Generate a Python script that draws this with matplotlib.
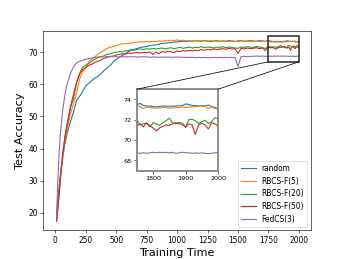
import matplotlib
matplotlib.use('Agg')
import matplotlib.pyplot as plt
from matplotlib.patches import Rectangle, ConnectionPatch
import numpy as np

# training time grid: dense at start, every 25 in the middle, every 10 in the zoomed tail
steps = np.r_[10:101:10, 125:1751:25, 1760:2001:10]

acc_random = [
    19.5, 24.0, 28.0, 31.5, 34.5, 37.2, 39.7, 41.8, 43.5, 45.2,
    48.5, 51.5, 55.0, 56.3, 57.8, 59.5, 60.3, 61.2, 62.0, 62.4,
    63.3, 64.3, 65.2, 65.8, 67.0, 67.8, 68.4, 69.0, 69.6, 70.2,
    70.6, 70.9, 71.2, 71.5, 71.6, 71.8, 72.0, 72.2, 72.3, 72.5,
    72.7, 72.8, 72.9, 73.0, 73.1, 73.2, 73.3, 73.4, 73.3, 73.5,
    73.4, 73.6, 73.5, 73.4, 73.6, 73.5, 73.3, 73.5, 73.6, 73.4,
    73.5, 73.4, 73.6, 73.5, 73.3, 73.5, 73.6, 73.4, 73.5, 73.6,
    73.5, 73.4, 73.6, 73.5, 73.4, 73.5,
    73.6, 73.4, 73.35, 73.35, 73.3, 73.25, 73.3, 73.35, 73.35, 73.33,
    73.33, 73.35, 73.36, 73.4, 73.55, 73.5, 73.4, 73.4, 73.35, 73.4,
    73.35, 73.45, 73.3, 73.2, 73.1,
]

acc_rbcs5 = [
    18.0, 22.0, 26.0, 30.0, 33.5, 37.0, 40.0, 42.5, 44.5, 46.5,
    51.0, 54.0, 57.5, 61.8, 64.0, 65.0, 67.0, 67.9, 68.6, 69.4,
    70.0, 70.6, 71.2, 71.5, 71.8, 72.0, 72.4, 72.6, 72.6, 72.8,
    72.9, 73.0, 73.1, 73.2, 73.2, 73.3, 73.2, 73.4, 73.3, 73.5,
    73.4, 73.6, 73.5, 73.7, 73.6, 73.8, 73.6, 73.7, 73.5, 73.6,
    73.5, 73.6, 73.4, 73.6, 73.5, 73.4, 73.6, 73.5, 73.4, 73.5,
    73.4, 73.5, 73.3, 73.5, 73.4, 73.3, 73.5, 73.4, 73.3, 73.4,
    73.3, 73.4, 73.3, 73.4, 73.3, 73.4,
    73.3, 73.1, 73.25, 73.2, 73.15, 73.15, 73.15, 73.2, 73.2, 73.15,
    73.15, 73.2, 73.2, 73.25, 73.2, 73.25, 73.25, 73.3, 73.3, 73.35,
    73.3, 73.1, 73.25, 73.1, 73.05,
]

acc_rbcs20 = [
    17.5, 21.5, 26.0, 30.5, 34.5, 38.3, 41.3, 44.0, 46.3, 48.3,
    52.8, 55.7, 60.5, 63.5, 65.3, 66.0, 66.5, 67.2, 67.8, 68.3,
    68.6, 68.9, 69.3, 69.5, 69.8, 70.0, 70.2, 70.1, 70.4, 70.5,
    70.8, 70.6, 70.9, 71.0, 70.8, 71.1, 70.9, 71.2, 71.0, 71.1,
    71.3, 71.0, 71.2, 71.4, 71.1, 71.3, 71.5, 71.2, 71.4, 71.6,
    71.3, 71.5, 71.4, 71.7, 71.4, 71.6, 71.5, 71.3, 71.6, 71.5,
    71.7, 71.4, 71.6, 71.5, 71.3, 71.2, 71.6, 71.5, 71.7, 71.6,
    71.4, 71.8, 71.6, 71.5, 70.4, 72.0,
    71.5, 71.6, 71.65, 71.3, 71.7, 71.6, 71.45, 71.7, 71.9, 72.15,
    71.7, 71.6, 71.75, 71.65, 71.3, 72.0, 72.05, 71.9, 71.65, 71.8,
    71.95, 71.65, 71.8, 72.2, 72.1,
]

acc_rbcs50 = [
    17.3, 21.0, 25.5, 30.0, 34.0, 38.0, 41.0, 43.8, 46.0, 48.3,
    53.3, 57.0, 60.8, 63.2, 64.6, 65.3, 65.9, 66.3, 66.8, 67.2,
    67.6, 68.1, 68.4, 68.6, 68.8, 69.1, 69.3, 69.5, 69.4, 69.7,
    69.6, 69.8, 69.9, 69.7, 70.0, 69.8, 70.1, 69.3, 70.0, 69.5,
    70.2, 70.0, 70.3, 70.1, 69.8, 70.4, 70.2, 70.5, 70.3, 70.6,
    70.4, 70.6, 70.5, 70.8, 70.6, 70.9, 70.7, 71.0, 70.8, 71.0,
    71.1, 70.9, 71.2, 71.0, 71.1, 69.6, 71.2, 71.0, 71.3, 71.1,
    71.2, 71.4, 71.1, 71.3, 71.2, 71.4,
    71.6, 71.3, 71.7, 71.4, 71.2, 70.9, 71.2, 71.35, 71.5, 71.45,
    71.6, 71.7, 71.6, 71.55, 71.25, 71.6, 71.5, 70.55, 71.5, 71.65,
    71.5, 71.1, 71.7, 71.6, 71.35,
]

acc_fedcs3 = [
    19.0, 30.0, 38.0, 44.0, 48.0, 52.0, 54.5, 57.0, 59.0, 60.5,
    63.5, 65.5, 66.7, 67.2, 67.5, 67.8, 68.0, 68.2, 68.3, 68.5,
    68.6, 68.5, 68.6, 68.7, 68.6, 68.6, 68.5, 68.6, 68.5, 68.6,
    68.5, 68.6, 68.5, 68.5, 68.6, 68.5, 68.4, 68.5, 68.5, 68.4,
    68.5, 68.4, 68.5, 68.4, 68.4, 68.5, 68.4, 68.4, 68.3, 68.4,
    68.4, 68.3, 68.4, 68.3, 68.4, 68.3, 68.3, 68.4, 68.3, 68.4,
    68.3, 68.4, 68.3, 68.4, 68.3, 65.6, 68.6, 68.7, 68.6, 68.7,
    68.7, 68.8, 68.7, 68.8, 68.7, 68.75,
    68.7, 68.75, 68.7, 68.75, 68.8, 68.75, 68.8, 68.75, 68.8, 68.75,
    68.8, 68.7, 68.75, 68.8, 68.75, 68.75, 68.7, 68.75, 68.7, 68.75,
    68.7, 68.65, 68.7, 68.75, 68.8,
]

series = [
    ('random', acc_random),
    ('RBCS-F(5)', acc_rbcs5),
    ('RBCS-F(20)', acc_rbcs20),
    ('RBCS-F(50)', acc_rbcs50),
    ('FedCS(3)', acc_fedcs3),
]

zoom_x = (1750, 2000)
zoom_y = (67, 75)

fig, ax = plt.subplots(figsize=(6.4, 4.8), dpi=54)
for label, vals in series:
    ax.plot(steps, vals, label=label, linewidth=1.5)
ax.set_xlabel('Training Time', fontsize=15)
ax.set_ylabel('Test Accuracy', fontsize=15)
ax.set_xticks([0, 250, 500, 750, 1000, 1250, 1500, 1750, 2000])
ax.set_xlim(-100, 2100)
ax.legend(loc='lower right', fontsize=10)

# zoomed inset
axins = fig.add_axes([0.396, 0.341, 0.235, 0.314])
for label, vals in series:
    axins.plot(steps, vals, linewidth=1.5)
axins.set_xlim(*zoom_x)
axins.set_ylim(*zoom_y)
axins.set_xticks([1800, 1900, 2000])
axins.set_yticks([68, 70, 72, 74])
axins.tick_params(labelsize=8.5)
for sp in axins.spines.values():
    sp.set_color('#888888')
    sp.set_linewidth(2.5)

rect = Rectangle((zoom_x[0], zoom_y[0]), zoom_x[1] - zoom_x[0], zoom_y[1] - zoom_y[0],
                 fill=False, edgecolor='#222222', linewidth=2, zorder=5)
ax.add_patch(rect)
for fx, dx in [(0, zoom_x[0]), (1, zoom_x[1])]:
    con = ConnectionPatch(xyA=(fx, 1), coordsA=axins.transAxes,
                          xyB=(dx, zoom_y[0]), coordsB=ax.transData,
                          color='black', linewidth=1)
    fig.add_artist(con)

plt.savefig('out.png')
plt.close()
